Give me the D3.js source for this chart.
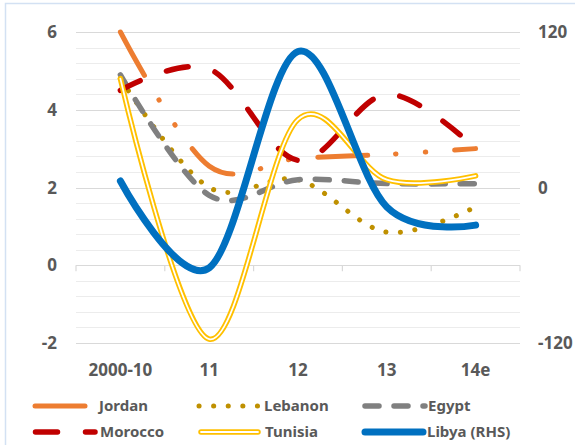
<!DOCTYPE html>
<html>
<head>
<meta charset="utf-8">
<script src="https://cdn.jsdelivr.net/npm/d3@7"></script>
<style>
    body { margin: 0; background: #fff; }
    text { font-family: "Noto Sans", sans-serif; font-weight: bold; fill: #595959; }
</style>
</head>
<body>
<div id="chart"></div>
<script>
// data
const categories = ["2000-10", "11", "12", "13", "14e"];
const jordan  = [6.0, 2.55, 2.75, 2.85, 3.0];
const lebanon = [4.8, 2.0, 2.2, 0.85, 1.5];
const egypt   = [4.9, 1.8, 2.2, 2.1, 2.1];
const morocco = [4.5, 5.05, 2.7, 4.4, 3.0];
const tunisia = [4.8, -1.9, 3.75, 2.2, 2.3];
const libya   = [5, -62, 105, -15, -29];   // right hand scale

const leftTicks = [-2, 0, 2, 4, 6];
const rightTicks = [-120, 0, 120];

let width = 575, height = 445;

let svg = d3.select("#chart").append("svg")
    .attr("width", width)
    .attr("height", height);

// chart frame
svg.append("rect")
    .attr("x", 5.5).attr("y", 3.5)
    .attr("width", 600).attr("height", 500)
    .attr("fill", "#fff")
    .attr("stroke", "#d3e1f3")
    .attr("stroke-width", 1.5);

let x = d3.scaleBand().domain(categories).range([76, 520]);
let y = d3.scaleLinear().domain([-2, 6]).range([343, 32]);
let yR = d3.scaleLinear().domain([-120, 120]).range([343, 32]);

// gridlines every 0.4
let grid = d3.range(-2, 6.001, 0.4);
svg.append("g").selectAll("line")
    .data(grid)
    .enter().append("line")
    .attr("x1", 76).attr("x2", 520)
    .attr("y1", d => Math.round(y(d)) + 0.5)
    .attr("y2", d => Math.round(y(d)) + 0.5)
    .attr("stroke", d => Math.abs(d / 2 - Math.round(d / 2)) < 0.01 ? "#d9d9d9" : "#ececec")
    .attr("stroke-width", 1.2);

// category tick marks on the zero line
let bounds = categories.map(c => x(c)).concat([x.range()[1]]);
svg.append("g").selectAll("line")
    .data(bounds)
    .enter().append("line")
    .attr("x1", d => d).attr("x2", d => d)
    .attr("y1", y(0)).attr("y2", y(0) + 6)
    .attr("stroke", "#d9d9d9")
    .attr("stroke-width", 1.2);

// axis labels
svg.append("g").selectAll("text")
    .data(leftTicks)
    .enter().append("text")
    .attr("x", 57).attr("y", d => y(d))
    .attr("dy", "0.36em")
    .attr("text-anchor", "end")
    .style("font-size", "17px")
    .text(d => d);

svg.append("g").selectAll("text")
    .data(rightTicks)
    .enter().append("text")
    .attr("x", 538).attr("y", d => yR(d))
    .attr("dy", "0.36em")
    .style("font-size", "17px")
    .text(d => d);

svg.append("g").selectAll("text")
    .data(categories)
    .enter().append("text")
    .attr("x", d => x(d) + x.bandwidth() / 2)
    .attr("y", 370)
    .attr("dy", "0.36em")
    .attr("text-anchor", "middle")
    .style("font-size", "17px")
    .text(d => d);

let cx = (d, i) => x(categories[i]) + x.bandwidth() / 2;
let curve = d3.curveCardinal.tension(0);

let series = [
    {name: "Jordan", values: jordan, scale: y, color: "#ed7d31", w: 5, dash: "50 28 0.5 29 0.5 29"},
    {name: "Lebanon", values: lebanon, scale: y, color: "#bf9000", w: 5, dash: "0.1 14.5"},
    {name: "Egypt", values: egypt, scale: y, color: "#808080", w: 5.5, dash: "14 15"},
    {name: "Morocco", values: morocco, scale: y, color: "#c00000", w: 5.5, dash: "22 28"},
    {name: "Tunisia", values: tunisia, scale: y, color: "#ffc000", w: 5.5, dash: null, double: true},
    {name: "Libya (RHS)", values: libya, scale: yR, color: "#0070c0", w: 7, dash: null}
];

function styleLine(sel, s) {
    sel.attr("fill", "none")
        .attr("stroke", s.color)
        .attr("stroke-width", s.w)
        .attr("stroke-linecap", "round")
        .attr("stroke-linejoin", "round")
        .attr("stroke-dasharray", s.dash);
}

series.forEach(s => {
    let line = d3.line()
        .x(cx)
        .y(d => s.scale(d))
        .curve(curve);

    svg.append("path")
        .attr("d", line(s.values))
        .call(styleLine, s);

    if (s.double) {
        svg.append("path")
            .attr("d", line(s.values))
            .attr("fill", "none")
            .attr("stroke", "#fff")
            .attr("stroke-width", 1.8)
            .attr("stroke-linecap", "round");
    }
});

// legend: line start, line end, text x, row y
let legendPos = [
    {x1: 35, x2: 85, tx: 99, ly: 406},
    {x1: 199, x2: 258, tx: 264, ly: 406},
    {x1: 365, x2: 425, tx: 428, ly: 406},
    {x1: 35.5, x2: 95, tx: 100, ly: 432},
    {x1: 201, x2: 258, tx: 265, ly: 432},
    {x1: 365, x2: 423, tx: 427, ly: 432}
];

series.forEach((s, i) => {
    let p = legendPos[i];
    let g = svg.append("g");
    g.append("line")
        .attr("x1", p.x1).attr("x2", p.x2)
        .attr("y1", p.ly).attr("y2", p.ly)
        .call(styleLine, s);
    if (s.double) {
        g.append("line")
            .attr("x1", p.x1).attr("x2", p.x2)
            .attr("y1", p.ly).attr("y2", p.ly)
            .attr("stroke", "#fff")
            .attr("stroke-width", 1.8)
            .attr("stroke-linecap", "round");
    }
    g.append("text")
        .attr("x", p.tx)
        .attr("y", p.ly)
        .attr("dy", "0.36em")
        .style("font-size", "15px")
        .text(s.name);
});
</script>
</body>
</html>
